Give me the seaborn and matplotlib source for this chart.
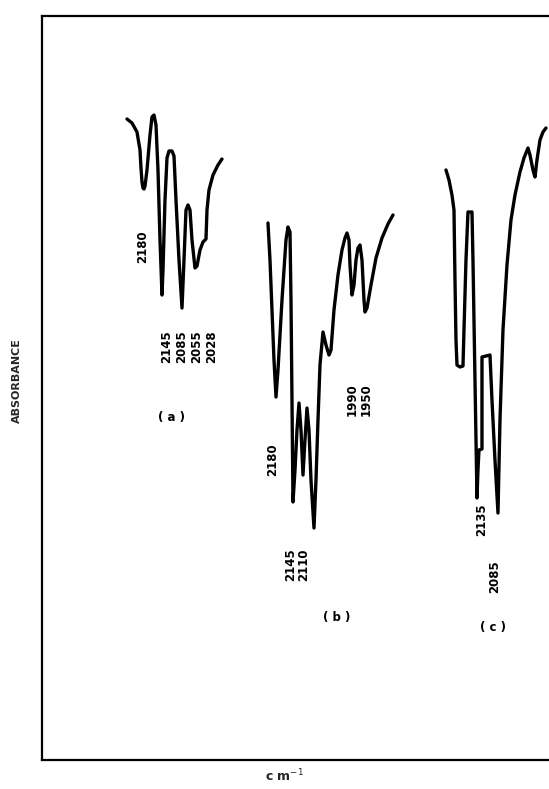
import numpy as np
import pandas as pd
import matplotlib
matplotlib.use("Agg")
import matplotlib.pyplot as plt
import seaborn as sns

sns.set_style("white")
plt.rcParams['font.family'] = ['DejaVu Sans']

# Traced spectra (frame units: x to the right, y downward = stronger band)
a_x = [127, 132, 137, 140, 141, 142, 143, 144, 145, 147, 150, 152, 154, 156, 158, 160, 162, 163, 165, 167, 169, 172,
       174, 176, 179, 182, 184, 186, 188, 190, 192, 195, 197, 200, 203, 206, 207, 209, 213, 218, 222]
a_y = [119, 123, 132, 150, 168, 182, 188, 189, 186, 170, 135, 117, 115, 125, 170, 240, 295, 270, 200, 158, 151, 151,
       156, 200, 260, 308, 260, 210, 205, 210, 240, 268, 266, 250, 242, 239, 210, 190, 175, 165, 159]

b_x = [268, 270, 272, 274, 276, 278, 282, 286, 288, 290, 291, 292, 293, 295, 297, 299, 301, 303, 305, 307,
       309, 311, 314, 316, 318, 320, 323, 326, 329, 331, 334, 338, 342, 345, 347, 349, 350, 352, 354, 356,
       358, 360, 362, 364, 365, 367, 371, 376, 382, 388, 393]
b_y = [223, 260, 310, 360, 397, 370, 300, 240, 227, 232, 300, 400, 502, 470, 430, 403, 430, 475, 440, 408,
       430, 480, 528, 480, 420, 365, 332, 345, 355, 350, 310, 275, 250, 238, 233, 240, 265, 295, 285, 260,
       248, 245, 260, 300, 312, 308, 285, 258, 238, 224, 215]

c_x = [446, 449, 452, 454, 455, 456, 457, 460, 463, 464, 466, 468, 472, 473, 475, 477, 478, 479, 482, 482,
       482, 490, 492, 495, 498, 500, 503, 507, 511, 515, 520, 524, 528, 530, 533, 535, 537, 540, 543, 546]
c_y = [170, 180, 195, 210, 280, 340, 365, 367, 366, 330, 260, 212, 212, 260, 380, 498, 470, 450, 449, 400,
       357, 355, 400, 460, 513, 420, 330, 265, 220, 195, 172, 158, 148, 155, 170, 177, 160, 140, 132, 128]

# Band labels: text, x, y
band_text = ["2180", "2145", "2085", "2055", "2028",
             "2180", "2145", "2110", "1990", "1950",
             "2135", "2085"]
band_x = [143, 167, 182, 197, 212,
          273, 291, 304, 352, 366,
          482, 495]
band_y = [247, 347, 347, 347, 347,
          460, 565, 565, 400, 400,
          520, 577]

panel_text = ["( a )", "( b )", "( c )"]
panel_x = [172, 337, 493]
panel_y = [418, 617, 628]

W, H = 549, 789
fig = plt.figure(figsize=(W / 100, H / 100), dpi=100)
left, top, bottom = 42, 16, 760
ax = fig.add_axes([left / W, 1 - bottom / H, 1 - left / W + 0.02, (bottom - top) / H])

for xs, ys in [(a_x, a_y), (b_x, b_y), (c_x, c_y)]:
    df = pd.DataFrame({"x": xs, "y": ys})
    sns.lineplot(data=df, x="x", y="y", sort=False, estimator=None, ax=ax,
                 color="black", linewidth=2.4, solid_joinstyle="round", solid_capstyle="round")

ax.set_xlim(left, W + 11)
ax.set_ylim(bottom, top)
ax.set_xticks([])
ax.set_yticks([])
ax.set_xlabel("")
ax.set_ylabel("")
for s in ["left", "top", "bottom"]:
    ax.spines[s].set_color("black")
    ax.spines[s].set_linewidth(1.6)
ax.spines["right"].set_visible(False)

for t, x, y in zip(band_text, band_x, band_y):
    ax.text(x, y, t, rotation=90, ha="center", va="center", fontsize=8.5, fontweight="bold", color="black")
for t, x, y in zip(panel_text, panel_x, panel_y):
    ax.text(x, y, t, ha="center", va="center", fontsize=8.5, fontweight="bold", color="black")

fig.text(17 / W, 1 - 381 / H, "ABSORBANCE", rotation=90, ha="center", va="center",
         fontsize=8, fontweight="bold")
fig.text(284 / W, 1 - 776 / H, "c m$^{-1}$", ha="center", va="center", fontsize=9, fontweight="bold")

fig.savefig("out.png", dpi=100, facecolor="white")
